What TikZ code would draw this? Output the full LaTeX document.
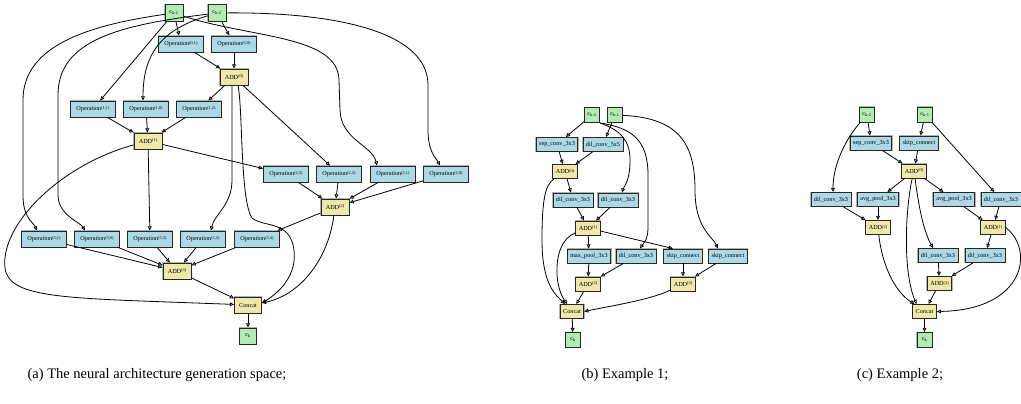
\documentclass[tikz,border=0pt]{standalone}
\usepackage{fontspec}
\setmainfont{Liberation Serif}
\usetikzlibrary{arrows.meta, positioning}
\definecolor{opblue}{RGB}{173,216,230}
\definecolor{addkhaki}{RGB}{238,232,170}
\definecolor{cellgreen}{RGB}{178,236,178}
\newcommand{\supidx}[1]{\raisebox{1.4pt}{\fontsize{4.3}{5}\selectfont(#1)}}
\newcommand{\opsup}[1]{Operation\supidx{#1}}
\newcommand{\addsup}[1]{ADD\supidx{#1}}
\tikzset{
  gvbox/.style={rectangle, draw=black!85, line width=0.9pt, inner sep=0pt,
    preaction={draw=black!30, line width=1.8pt}, font=\fontsize{6.2}{7}\selectfont},
  opnode/.style={gvbox, fill=opblue, minimum width=45pt, minimum height=16pt},
  addnode/.style={gvbox, fill=addkhaki, minimum width=28pt, minimum height=16pt},
  cellnode/.style={gvbox, fill=cellgreen, minimum width=18pt, minimum height=17pt},
  smallop/.style={gvbox, fill=opblue, inner xsep=3pt, minimum height=14pt},
  smalladd/.style={gvbox, fill=addkhaki, inner xsep=3pt, minimum height=14pt},
  smallcell/.style={gvbox, fill=cellgreen, minimum size=15pt},
  conn/.style={line width=0.8pt, -{Triangle[open, length=4.2pt, width=3.8pt]}},
  caption/.style={font=\fontsize{14.5}{16}\selectfont}
}
\begin{document}
\begin{tikzpicture}[x=1pt, y=-1pt]
\useasboundingbox (0,0) rectangle (1021,404);

% (a) generation space
\node[cellnode] (ck1a) at (174,13) {c\textsubscript{k-1}};
\node[cellnode] (ck2a) at (217,13) {c\textsubscript{k-2}};
\node[opnode] (op01) at (181,44) {\opsup{0,1}};
\node[opnode] (op00) at (234,44) {\opsup{0,0}};
\node[addnode] (add0a) at (234,77) {\addsup{0}};
\node[opnode] (op11) at (93,109) {\opsup{1,1}};
\node[opnode] (op10) at (146,109) {\opsup{1,0}};
\node[opnode] (op12) at (199,109) {\opsup{1,2}};
\node[addnode] (add1a) at (148,141) {\addsup{1}};
\node[opnode] (op23) at (286,174) {\opsup{2,3}};
\node[opnode] (op22) at (339,174) {\opsup{2,2}};
\node[opnode] (op21) at (393,174) {\opsup{2,1}};
\node[opnode] (op20) at (446,174) {\opsup{2,0}};
\node[addnode] (add2a) at (335,207) {\addsup{2}};
\node[opnode] (op31) at (44,239) {\opsup{3,1}};
\node[opnode] (op30) at (97,239) {\opsup{3,0}};
\node[opnode] (op33) at (150,239) {\opsup{3,3}};
\node[opnode] (op32) at (203,239) {\opsup{3,2}};
\node[opnode] (op34) at (257,239) {\opsup{3,4}};
\node[addnode] (add3a) at (177,271) {\addsup{3}};
\node[addnode, minimum width=27pt] (concata) at (248,305) {Concat};
\node[cellnode, minimum width=17pt, minimum height=16pt] (cka) at (248,336) {c\textsubscript{k}};

\draw[conn] (ck1a) -- (op01);
\draw[conn] (ck2a) -- (op00);
\draw[conn] (op01) -- (add0a);
\draw[conn] (op00) -- (add0a);
\draw[conn] (ck1a) -- (op11);
\draw[conn] (ck2a) .. controls (160,30) and (143,55) .. ([xshift=-3pt]op10.north);
\draw[conn] (ck2a) .. controls (120,25) and (58,40) .. (58,95) -- (58,195) .. controls (58,215) and (80,222) .. ([xshift=-12pt]op30.north);
\draw[conn] (ck1a) .. controls (90,25) and (23,45) .. (23,100) -- (23,195) .. controls (23,218) and (33,222) .. ([xshift=-7pt]op31.north);
\draw[conn] (ck1a) .. controls (250,38) and (338,35) .. (339,80) -- (340,110) .. controls (341,140) and (372,145) .. ([xshift=-16pt]op21.north);
\draw[conn] (ck2a) .. controls (330,12) and (428,30) .. (428,85) -- (428,130) .. controls (428,152) and (436,158) .. ([xshift=-6pt]op20.north);
\draw[conn] (add0a) -- (op12);
\draw[conn] (add0a) -- ([xshift=-9pt]op22.north);
\draw[conn] ([xshift=-2pt]add0a.south) -- (232,180) .. controls (232,205) and (214,215) .. ([xshift=8pt]op32.north);
\draw[conn] ([xshift=4pt]add0a.south) .. controls (243,110) and (240,200) .. (252,218) .. controls (265,228) and (290,220) .. (294,250) .. controls (297,275) and (280,292) .. ([yshift=2pt]concata.east);
\draw[conn] (op11) -- (add1a);
\draw[conn] (op10) -- (add1a);
\draw[conn] (op12) -- (add1a);
\draw[conn] (add1a) -- (op33);
\draw[conn] (add1a) -- (op23);
\draw[conn] (add1a) .. controls (60,165) and (0,225) .. (5,268) .. controls (9,300) and (70,298) .. (concata);
\draw[conn] (op23) -- (add2a);
\draw[conn] (op22) -- (add2a);
\draw[conn] (op21) -- (add2a);
\draw[conn] (op20) -- (add2a);
\draw[conn] (add2a) -- (op34);
\draw[conn] (add2a) .. controls (328,260) and (300,295) .. ([yshift=2pt]concata.east);
\draw[conn] (op31) -- (add3a);
\draw[conn] (op30) -- (add3a);
\draw[conn] (op33) -- (add3a);
\draw[conn] (op32) -- (add3a);
\draw[conn] (op34) -- (add3a);
\draw[conn] (add3a) -- (concata);
\draw[conn] (concata) -- (cka);

% (b) example 1
\node[smallcell] (ck2b) at (592,115) {c\textsubscript{k-2}};
\node[smallcell] (ck1b) at (615,115) {c\textsubscript{k-1}};
\node[smallop] (sepb) at (557,144.5) {sep\_conv\_3x3};
\node[smallop] (dil5b) at (603,144.5) {dil\_conv\_5x5};
\node[smalladd] (add0b) at (565,171.5) {\addsup{0}};
\node[smallop] (dil3ba) at (573,200) {dil\_conv\_3x3};
\node[smallop] (dil3bb) at (618,200) {dil\_conv\_3x3};
\node[smalladd] (add1b) at (588,228) {\addsup{1}};
\node[smallop] (poolb) at (589,256) {max\_pool\_3x3};
\node[smallop] (dil3bc) at (636,256) {dil\_conv\_3x3};
\node[smallop] (skipba) at (683,256) {skip\_connect};
\node[smallop] (skipbb) at (728,256) {skip\_connect};
\node[smalladd] (add2b) at (588,284) {\addsup{2}};
\node[smalladd] (add3b) at (683,284) {\addsup{3}};
\node[smalladd] (concatb) at (572,311.5) {Concat};
\node[smallcell] (ckb) at (573,340) {c\textsubscript{k}};

\draw[conn] (ck2b) -- (sepb);
\draw[conn] (ck1b) -- (dil5b);
\draw[conn] (sepb) -- (add0b);
\draw[conn] (dil5b) -- (add0b);
\draw[conn] (add0b) -- (dil3ba);
\draw[conn] (ck2b.south east) .. controls (620,130) and (630,140) .. (630,160) .. controls (630,182) and (624,186) .. ([xshift=4pt]dil3bb.north);
\draw[conn] (ck2b.south east) .. controls (632,128) and (648,140) .. (648,175) -- (648,228) .. controls (648,240) and (643,244) .. ([xshift=4pt]dil3bc.north);
\draw[conn] (ck1b) .. controls (680,118) and (695,145) .. (695,190) .. controls (695,228) and (712,236) .. ([xshift=-10pt]skipbb.north);
\draw[conn] (dil3ba) -- (add1b);
\draw[conn] (dil3bb) -- (add1b);
\draw[conn] (add1b) -- (poolb);
\draw[conn] (add1b) -- ([xshift=-10pt]skipba.north);
\draw[conn] (add0b) .. controls (545,185) and (542,200) .. (542,240) .. controls (542,285) and (556,295) .. ([xshift=-7pt]concatb.north);
\draw[conn] (add1b) .. controls (562,238) and (556,255) .. (557,275) .. controls (558,290) and (563,298) .. ([xshift=-5pt]concatb.north);
\draw[conn] (poolb) -- (add2b);
\draw[conn] (dil3bc) -- (add2b);
\draw[conn] (skipba) -- (add3b);
\draw[conn] (skipbb) -- (add3b);
\draw[conn] (add2b) -- (concatb);
\draw[conn] (add3b) .. controls (650,300) and (610,306) .. (concatb.east);
\draw[conn] (concatb) -- (ckb);

% (c) example 2
\node[smallcell] (ck2c) at (867,114.5) {c\textsubscript{k-2}};
\node[smallcell] (ck1c) at (925,114.5) {c\textsubscript{k-1}};
\node[smallop] (sepc) at (871,143) {sep\_conv\_3x3};
\node[smallop] (skipc) at (919,143) {skip\_connect};
\node[smalladd] (add0c) at (914,171) {\addsup{0}};
\node[smallop] (dil3ca) at (831,199.5) {dil\_conv\_3x3};
\node[smallop] (avgca) at (878,199.5) {avg\_pool\_3x3};
\node[smallop] (avgcb) at (954,199.5) {avg\_pool\_3x3};
\node[smallop] (dil3cb) at (1001,199.5) {dil\_conv\_3x3};
\node[smalladd] (add2c) at (878,227.5) {\addsup{2}};
\node[smalladd] (add1c) at (993,227.5) {\addsup{1}};
\node[smallop] (dil3cc) at (938,255.5) {dil\_conv\_3x3};
\node[smallop] (dil3cd) at (985,255.5) {dil\_conv\_3x3};
\node[smalladd] (add3c) at (939.5,283.5) {\addsup{3}};
\node[smalladd] (concatc) at (924.5,311.5) {Concat};
\node[smallcell] (ckc) at (924.5,340) {c\textsubscript{k}};

\draw[conn] (ck2c) -- (sepc);
\draw[conn] (ck2c) .. controls (845,140) and (833,165) .. ([xshift=2pt]dil3ca.north);
\draw[conn] (ck1c) -- (skipc);
\draw[conn] (ck1c) -- (dil3cb);
\draw[conn] (sepc) -- (add0c);
\draw[conn] (skipc) -- (add0c);
\draw[conn] (add0c) -- (avgca);
\draw[conn] (add0c) -- (avgcb);
\draw[conn] (add0c) .. controls (918,200) and (922,228) .. ([xshift=-5pt]dil3cc.north);
\draw[conn] (add0c) .. controls (906,205) and (902,270) .. ([xshift=-8pt]concatc.north);
\draw[conn] (dil3ca) -- (add2c);
\draw[conn] (avgca) -- (add2c);
\draw[conn] (avgcb) -- (add1c);
\draw[conn] (dil3cb) -- (add1c);
\draw[conn] (add1c) -- (dil3cd);
\draw[conn] (add1c.east) .. controls (1035,250) and (1025,310) .. (concatc.east);
\draw[conn] (add2c) .. controls (882,265) and (895,292) .. ([xshift=-10pt]concatc.north);
\draw[conn] (dil3cc) -- (add3c);
\draw[conn] (dil3cd) -- (add3c);
\draw[conn] (add3c) -- (concatc);
\draw[conn] (concatc) -- (ckc);

% captions
\node[caption] (capa) at (157,375) {(a) The neural architecture generation space;};
\node[caption] (capb) at (625,375) {(b) Example 1;};
\node[caption] (capc) at (900,375) {(c) Example 2;};
\end{tikzpicture}
\end{document}
